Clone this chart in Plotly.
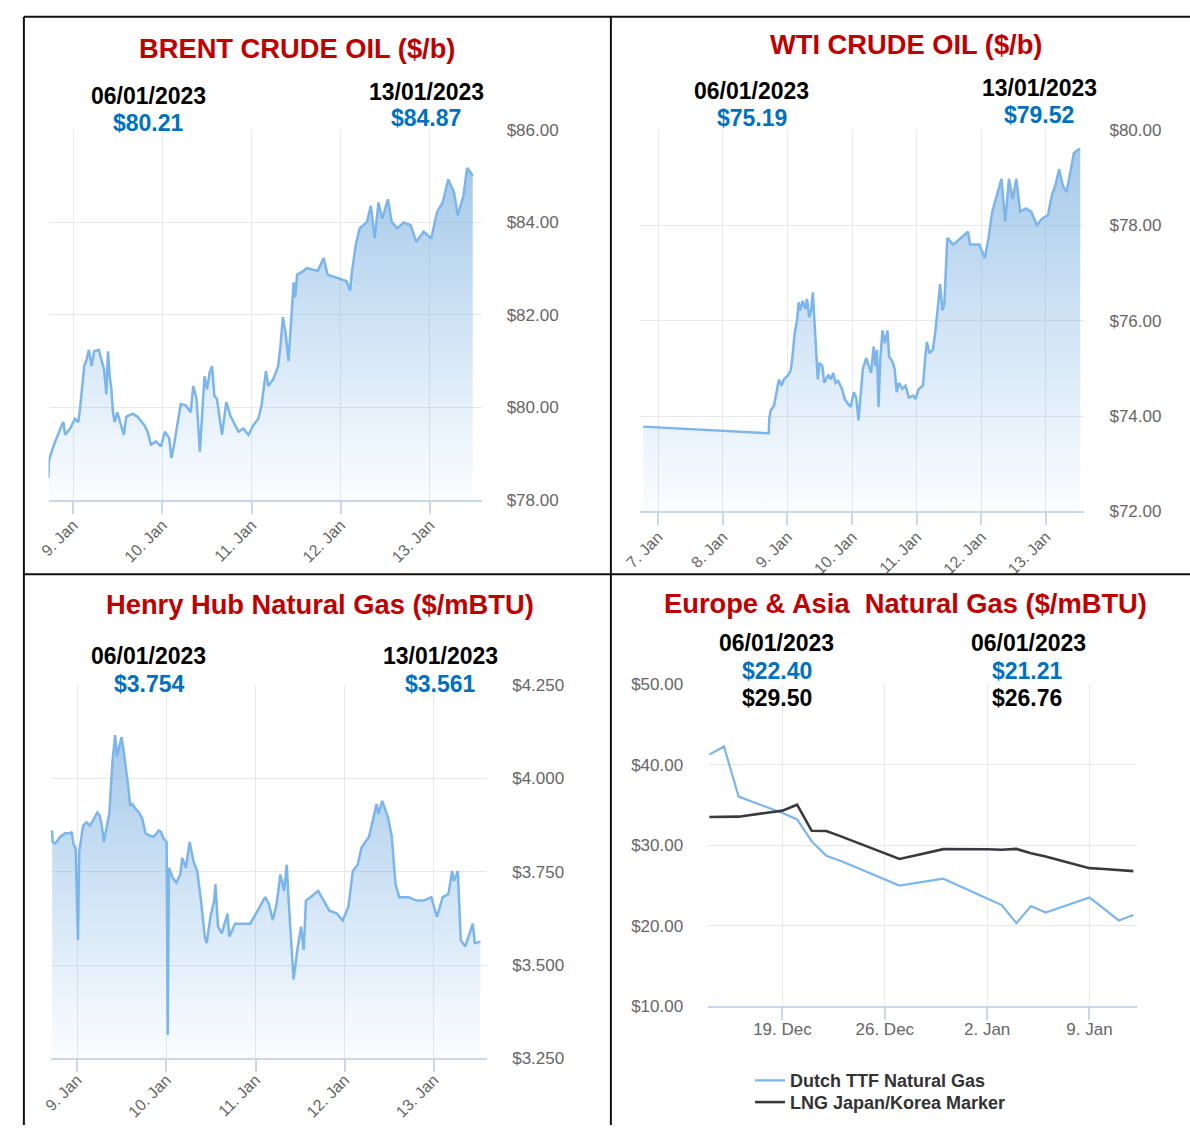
import numpy as np
import pandas as pd
import plotly.graph_objects as go

W, H = 1190, 1135

# ---------------- data ----------------
# time as day-of-January 2023 (fractional), prices in $
brent_day = [8.721, 8.727, 8.742, 8.798, 8.872, 8.890, 8.909, 8.964, 9.020, 9.057,
             9.076, 9.101, 9.123, 9.150, 9.176, 9.206, 9.234, 9.287, 9.317, 9.346,
             9.372, 9.390, 9.409, 9.428, 9.446, 9.464, 9.494, 9.520, 9.568, 9.594,
             9.668, 9.723, 9.798, 9.834, 9.872, 9.928, 9.983, 10.028, 10.076, 10.101,
             10.131, 10.206, 10.261, 10.317, 10.346, 10.383, 10.420, 10.472, 10.501, 10.528,
             10.557, 10.583, 10.612, 10.668, 10.717, 10.761, 10.817, 10.853, 10.909, 10.964,
             11.020, 11.076, 11.112, 11.139, 11.161, 11.187, 11.242, 11.298, 11.323, 11.351,
             11.382, 11.414, 11.440, 11.455, 11.472, 11.489, 11.511, 11.575, 11.618, 11.743,
             11.809, 11.851, 11.957, 12.063, 12.105, 12.126, 12.168, 12.211, 12.295, 12.337,
             12.381, 12.423, 12.465, 12.529, 12.571, 12.634, 12.706, 12.784, 12.847, 12.930,
             13.015, 13.079, 13.143, 13.206, 13.270, 13.312, 13.375, 13.417, 13.460, 13.480]
brent_price = [78.47, 78.83, 78.94, 79.26, 79.61, 79.68, 79.40, 79.54, 79.75, 79.68,
               79.96, 80.46, 80.89, 81.03, 81.24, 80.89, 81.21, 81.24, 81.03, 80.81,
               80.28, 81.21, 80.67, 80.39, 79.89, 79.68, 79.89, 79.72, 79.40, 79.79,
               79.86, 79.79, 79.61, 79.47, 79.19, 79.26, 79.15, 79.47, 79.33, 78.90,
               79.19, 80.07, 80.04, 79.89, 80.46, 80.18, 79.04, 80.67, 80.39, 80.74,
               80.89, 80.25, 80.18, 79.40, 80.11, 79.82, 79.61, 79.47, 79.54, 79.40,
               79.61, 79.75, 80.04, 80.46, 80.78, 80.46, 80.60, 80.89, 81.31, 81.95,
               81.60, 81.00, 81.70, 82.30, 82.70, 82.38, 82.87, 82.94, 83.01, 82.95,
               83.23, 82.87, 82.80, 82.73, 82.52, 82.94, 83.51, 83.87, 84.01, 84.36,
               83.66, 84.43, 84.08, 84.50, 84.01, 83.87, 84.00, 83.94, 83.58, 83.80,
               83.65, 84.22, 84.43, 84.93, 84.65, 84.15, 84.57, 85.18, 85.07, 85.00]

wti_day = [6.768, 8.710, 8.718, 8.740, 8.791, 8.843, 8.867, 8.908, 8.944, 8.995,
           9.046, 9.072, 9.111, 9.148, 9.173, 9.198, 9.234, 9.275, 9.301, 9.336,
           9.366, 9.392, 9.417, 9.438, 9.469, 9.493, 9.539, 9.569, 9.631, 9.672,
           9.707, 9.744, 9.783, 9.844, 9.885, 9.936, 9.977, 10.027, 10.064, 10.099,
           10.140, 10.165, 10.217, 10.252, 10.293, 10.333, 10.359, 10.385, 10.409, 10.435,
           10.470, 10.507, 10.547, 10.573, 10.623, 10.660, 10.690, 10.725, 10.776, 10.827,
           10.878, 10.944, 10.980, 11.031, 11.096, 11.133, 11.157, 11.198, 11.249, 11.285,
           11.310, 11.336, 11.362, 11.397, 11.427, 11.450, 11.473, 11.565, 11.679, 11.794,
           11.824, 11.968, 12.053, 12.111, 12.168, 12.226, 12.311, 12.369, 12.427, 12.484,
           12.542, 12.600, 12.685, 12.771, 12.858, 12.944, 13.031, 13.089, 13.145, 13.203,
           13.260, 13.318, 13.376, 13.432, 13.490, 13.530]
wti_price = [73.78, 73.64, 73.95, 74.12, 74.22, 74.57, 74.77, 74.64, 74.77, 74.84,
             74.94, 75.18, 75.74, 76.01, 76.39, 76.22, 76.42, 76.25, 76.46, 76.08,
             76.22, 76.60, 76.08, 75.53, 74.77, 75.12, 75.05, 74.70, 74.87, 74.77,
             74.91, 74.70, 74.74, 74.57, 74.36, 74.26, 74.19, 74.50, 74.39, 73.91,
             74.57, 74.98, 75.22, 75.08, 74.91, 75.46, 75.05, 75.39, 74.19, 75.18,
             75.80, 75.53, 75.80, 75.25, 75.15, 74.98, 74.50, 74.70, 74.57, 74.64,
             74.39, 74.43, 74.36, 74.57, 74.64, 75.25, 75.56, 75.32, 75.39, 75.74,
             76.15, 76.42, 76.77, 76.22, 76.36, 77.25, 77.74, 77.60, 77.74, 77.87,
             77.60, 77.60, 77.32, 77.74, 78.29, 78.56, 78.98, 78.08, 78.98, 78.56,
             78.98, 78.29, 78.36, 78.29, 78.01, 78.15, 78.22, 78.63, 78.84, 79.18,
             78.84, 78.70, 79.11, 79.52, 79.59, 79.61]

hh_day = [8.719, 8.725, 8.755, 8.810, 8.865, 8.921, 8.939, 8.957, 8.983, 9.009,
          9.023, 9.067, 9.105, 9.141, 9.178, 9.196, 9.226, 9.252, 9.277, 9.299,
          9.326, 9.362, 9.381, 9.398, 9.425, 9.447, 9.472, 9.498, 9.520, 9.546,
          9.572, 9.594, 9.619, 9.657, 9.693, 9.730, 9.767, 9.804, 9.859, 9.914,
          9.939, 9.969, 10.003, 10.015, 10.029, 10.071, 10.113, 10.156, 10.177, 10.219,
          10.261, 10.304, 10.346, 10.388, 10.431, 10.452, 10.494, 10.536, 10.550, 10.579,
          10.622, 10.685, 10.706, 10.770, 10.854, 10.939, 11.023, 11.108, 11.150, 11.192,
          11.236, 11.278, 11.320, 11.350, 11.371, 11.396, 11.426, 11.468, 11.510, 11.540,
          11.565, 11.616, 11.701, 11.764, 11.827, 11.913, 11.976, 12.040, 12.091, 12.145,
          12.188, 12.272, 12.315, 12.357, 12.378, 12.420, 12.485, 12.527, 12.569, 12.611,
          12.717, 12.802, 12.886, 12.971, 13.034, 13.098, 13.162, 13.204, 13.225, 13.268,
          13.301, 13.352, 13.436, 13.458, 13.521]
hh_price = [3.861, 3.830, 3.826, 3.844, 3.853, 3.853, 3.857, 3.826, 3.813, 3.567,
            3.804, 3.874, 3.883, 3.874, 3.888, 3.896, 3.909, 3.901, 3.874, 3.830,
            3.866, 3.909, 3.988, 4.050, 4.116, 4.059, 4.085, 4.111, 4.076, 4.032,
            3.980, 3.927, 3.932, 3.918, 3.909, 3.892, 3.853, 3.848, 3.844, 3.861,
            3.857, 3.839, 3.830, 3.313, 3.761, 3.734, 3.721, 3.743, 3.787, 3.761,
            3.830, 3.778, 3.752, 3.673, 3.576, 3.559, 3.629, 3.673, 3.717, 3.603,
            3.585, 3.638, 3.576, 3.611, 3.611, 3.611, 3.646, 3.682, 3.664, 3.620,
            3.664, 3.743, 3.699, 3.769, 3.673, 3.585, 3.462, 3.541, 3.603, 3.541,
            3.673, 3.682, 3.699, 3.673, 3.646, 3.638, 3.620, 3.655, 3.752, 3.769,
            3.815, 3.844, 3.888, 3.932, 3.905, 3.940, 3.896, 3.845, 3.717, 3.682,
            3.682, 3.673, 3.673, 3.682, 3.629, 3.682, 3.690, 3.752, 3.725, 3.752,
            3.567, 3.550, 3.611, 3.559, 3.563]

eu_dates = ["2022-12-14", "2022-12-15", "2022-12-16", "2022-12-19", "2022-12-20",
            "2022-12-21", "2022-12-22", "2022-12-23", "2022-12-27", "2022-12-28",
            "2022-12-29", "2022-12-30", "2023-01-02", "2023-01-03", "2023-01-04",
            "2023-01-05", "2023-01-06", "2023-01-09", "2023-01-10", "2023-01-11",
            "2023-01-12"]
ttf_price = [41.25, 42.27, 36.05, 34.00, 33.20, 30.50, 28.70, 28.05, 25.00, 25.30,
             25.55, 25.85, 23.40, 22.57, 20.33, 22.45, 21.64, 23.52, 22.10, 20.66,
             21.35]
jkm_price = [33.50, 33.50, 33.55, 34.30, 35.04, 31.80, 31.77, 31.10, 28.30, 28.70,
             29.10, 29.52, 29.50, 29.45, 29.55, 29.00, 28.60, 27.16, 27.05, 26.90,
             26.79]

eu_names = ["Dutch TTF Natural Gas", "LNG Japan/Korea Marker"]

titles = ["BRENT CRUDE OIL ($/b)", "WTI CRUDE OIL ($/b)",
          "Henry Hub Natural Gas ($/mBTU)", "Europe &amp; Asia  Natural Gas ($/mBTU)"]
header_dates = ["06/01/2023", "13/01/2023"]
brent_header = ["$80.21", "$84.87"]
wti_header = ["$75.19", "$79.52"]
hh_header = ["$3.754", "$3.561"]
eu_dates_header = ["06/01/2023", "06/01/2023"]
ttf_header = ["$22.40", "$21.21"]
jkm_header = ["$29.50", "$26.76"]


# ---------------- helpers ----------------
def to_time(days):
    return pd.Timestamp("2023-01-01") + pd.to_timedelta(np.asarray(days, dtype=float) - 1.0, unit="D")


def px_x(p):
    return p / W


def px_y(p):
    return 1 - p / H


FONT = "Liberation Sans, Arial, sans-serif"
LINE_BLUE = "#7cb5ec"
GRID = "#e8e8e8"
AXLINE = "#ccd6eb"
LABEL = "#666666"
DAY_MS = 86400000

fig = go.Figure()


def area_trace(days, prices, xa, ya, ymin):
    return go.Scatter(
        x=to_time(days), y=prices, xaxis=xa, yaxis=ya, mode="lines",
        line=dict(color=LINE_BLUE, width=2.5), fill="tozeroy",
        fillgradient=dict(type="vertical",
                          colorscale=[[0, "rgba(124,181,236,0.02)"], [1, "rgba(110,168,218,0.62)"]],
                          start=ymin, stop=max(prices)),
        showlegend=False, hoverinfo="skip")


fig.add_trace(area_trace(brent_day, brent_price, "x", "y", 78))
fig.add_trace(area_trace(wti_day, wti_price, "x2", "y2", 72))
fig.add_trace(area_trace(hh_day, hh_price, "x3", "y3", 3.25))

eu_t = pd.to_datetime(eu_dates)
fig.add_trace(go.Scatter(x=eu_t, y=ttf_price, xaxis="x4", yaxis="y4", mode="lines",
                         name=eu_names[0], line=dict(color=LINE_BLUE, width=2.2),
                         legend="legend", hoverinfo="skip"))
fig.add_trace(go.Scatter(x=eu_t, y=jkm_price, xaxis="x4", yaxis="y4", mode="lines",
                         name=eu_names[1], line=dict(color="#3a3a3e", width=2.6),
                         legend="legend2", hoverinfo="skip"))


def xdate(domain, rng, angle=-45, tick0="2023-01-01", dtick=DAY_MS, anchor="y", standoff=-4):
    return dict(domain=domain, range=rng, type="date", anchor=anchor,
                tickmode="linear", tick0=tick0, dtick=dtick, tickformat="%-d. %b",
                tickangle=angle, showgrid=True, gridcolor=GRID, gridwidth=1,
                showline=True, linecolor=AXLINE, linewidth=2, ticks="outside",
                ticklen=12, tickcolor=AXLINE, tickwidth=1.5, ticklabelstandoff=standoff,
                tickfont=dict(family=FONT, size=16, color=LABEL), zeroline=False,
                fixedrange=True)


def yval(domain, rng, dtick, fmt, side="right", anchor="x"):
    return dict(domain=domain, range=rng, dtick=dtick, tick0=rng[0], tickmode="linear",
                tickprefix="$", tickformat=fmt, side=side, anchor=anchor,
                showgrid=True, gridcolor=GRID, gridwidth=1, zeroline=False,
                showline=False, ticks="", ticklabelstandoff=24,
                tickfont=dict(family=FONT, size=17, color=LABEL), fixedrange=True)


fig.update_layout(
    xaxis=xdate([px_x(33), px_x(472)], [to_time([8.7235])[0], to_time([13.580])[0]], anchor="y"),
    yaxis=yval([px_y(499), px_y(123)], [78, 86], 2, ".2f", anchor="x"),
    xaxis2=xdate([px_x(632), px_x(1083)], [to_time([6.710])[0], to_time([13.595])[0]], anchor="y2"),
    yaxis2=yval([px_y(511), px_y(123.3)], [72, 80], 2, ".2f", anchor="x2"),
    xaxis3=xdate([px_x(35.2), px_x(477.6)], [to_time([8.7035])[0], to_time([13.597])[0]],
                 anchor="y3", standoff=-8),
    yaxis3=yval([px_y(1067.3), px_y(687.7)], [3.25, 4.25], 0.25, ".3f", anchor="x3"),
    xaxis4=xdate([px_x(701.6), px_x(1136.3)], ["2022-12-13 22:03", "2023-01-12 06:03"],
                 angle=0, tick0="2022-12-19", dtick=7 * DAY_MS, anchor="y4", standoff=-6),
    yaxis4=yval([px_y(1014.3), px_y(686.7)], [10, 50], 10, ".2f", side="left", anchor="x4"),
)
fig.layout.xaxis4.tickfont.size = 17

# ---------------- header texts ----------------
ann = []


def txt(text, cx, cy, size, color):
    ann.append(dict(text=text, x=px_x(cx), y=px_y(cy), xref="paper", yref="paper",
                    xanchor="center", yanchor="middle", showarrow=False,
                    font=dict(family=FONT, size=size, color=color, weight="bold")))


RED = "#c00000"
BLUE = "#0070c0"
txt(titles[0], 285, 40, 27.3, RED)
txt(titles[1], 902, 36, 27.3, RED)
txt(titles[2], 308, 606, 27.3, RED)
txt(titles[3], 902, 605, 27.3, RED)

txt(header_dates[0], 134.5, 88, 23, "#000")
txt(brent_header[0], 134, 116, 23, BLUE)
txt(header_dates[1], 416, 84, 23, "#000")
txt(brent_header[1], 416, 111, 23, BLUE)

txt(header_dates[0], 746, 83, 23, "#000")
txt(wti_header[0], 746, 111, 23, BLUE)
txt(header_dates[1], 1037, 80, 23, "#000")
txt(wti_header[1], 1037, 108, 23, BLUE)

txt(header_dates[0], 134.5, 658, 23, "#000")
txt(hh_header[0], 135.5, 686, 23, BLUE)
txt(header_dates[1], 430.5, 658, 23, "#000")
txt(hh_header[1], 430, 686, 23, BLUE)

txt(eu_dates_header[0], 771, 645, 23, "#000")
txt(ttf_header[0], 771, 673, 23, BLUE)
txt(jkm_header[0], 771, 701, 23, "#000")
txt(eu_dates_header[1], 1026, 645, 23, "#000")
txt(ttf_header[1], 1025, 673, 23, BLUE)
txt(jkm_header[1], 1025, 701, 23, "#000")

# ---------------- frame ----------------
shapes = [
    dict(type="rect", xref="paper", yref="paper", x0=px_x(604), x1=1.0,
         y0=px_y(592), y1=px_y(576), fillcolor="white", line=dict(width=0), layer="above"),
]
BLACK = dict(color="#111111", width=2)
for (x0, y0, x1, y1) in [(8, 8, 1190, 8), (8, 8, 8, 1135), (603, 8, 603, 1135), (8, 575, 1190, 575)]:
    shapes.append(dict(type="line", xref="paper", yref="paper", x0=px_x(x0), x1=px_x(x1),
                       y0=px_y(y0), y1=px_y(y1), line=BLACK, layer="above"))

LEG_FONT = dict(family=FONT, size=18, color="#333333", weight="bold")
fig.update_layout(
    width=W, height=H, autosize=False,
    margin=dict(l=0, r=0, t=0, b=0, pad=0),
    paper_bgcolor="white", plot_bgcolor="white",
    font=dict(family=FONT),
    annotations=ann, shapes=shapes,
    showlegend=True,
    legend=dict(x=px_x(744), y=px_y(1090), xanchor="left", yanchor="middle",
                bgcolor="rgba(0,0,0,0)", borderwidth=0, itemwidth=30, font=LEG_FONT),
    legend2=dict(x=px_x(744), y=px_y(1112), xanchor="left", yanchor="middle",
                 bgcolor="rgba(0,0,0,0)", borderwidth=0, itemwidth=30, font=LEG_FONT),
)

fig.write_html(
    "out.html",
    config={"displayModeBar": False},
    post_script="document.body.style.margin='0px';document.body.style.padding='0px';"
                "document.documentElement.style.overflow='hidden';",
)
